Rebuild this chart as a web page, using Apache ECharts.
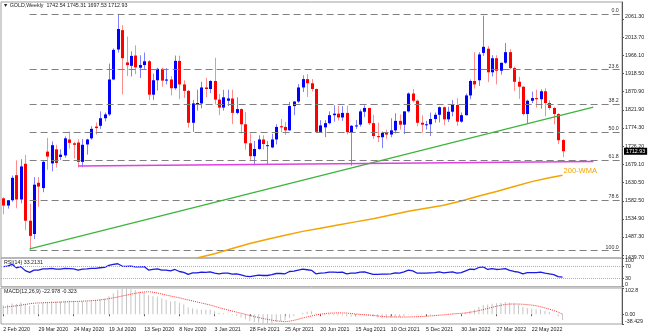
<!DOCTYPE html>
<html lang="en">
<head>
<meta charset="UTF-8">
<script src="https://cdn.jsdelivr.net/npm/echarts@6.0.0/dist/echarts.min.js"></script>
<style>html,body{margin:0;padding:0;background:#fff;}</style>
</head>
<body>
<div id="chart" style="width:648px;height:336px;"></div>
<script type="text/javascript">
// weekly candles, 2 Feb 2020 .. 10 Jul 2022
var dateLabels = ['2 Feb 2020', '29 Mar 2020', '24 May 2020', '19 Jul 2020', '13 Sep 2020', '8 Nov 2020',
    '3 Jan 2021', '28 Feb 2021', '25 Apr 2021', '20 Jun 2021', '15 Aug 2021', '10 Oct 2021',
    '5 Dec 2021', '30 Jan 2022', '27 Mar 2022', '22 May 2022'];
var totalSlots = 141;

var opens = [1589,1570,1584,1650,1586,1680,1530,1495,1630,1616, 1712,1681,1718,1698,1702,1744,1734,1736,1685,1731,
    1747,1778,1780,1800,1810,1902,1981,2032,1947,1938, 1965,1933,1940,1950,1862,1900,1930,1899,1902,1879,
    1951,1889,1872,1788,1837,1839,1881,1877,1898,1849, 1828,1846,1852,1814,1824,1784,1734,1700,1719,1744,
    1727,1723,1744,1779,1777,1768,1832,1844,1881,1903, 1892,1877,1764,1776,1787,1808,1812,1802,1814,1763,
    1780,1783,1817,1827,1787,1753,1750,1761,1757,1768, 1793,1783,1818,1865,1846,1788,1783,1784,1798,1809,
    1829,1797,1817,1835,1791,1808,1860,1898,1900,1972, 1983,1921,1958,1925,1946,1974,1932,1896,1883,1811,
    1846,1853,1850,1871,1840,1827,1811,1742.54];
var highs = [1592,1584,1649,1689,1692,1703,1575,1645,1645,1690, 1748,1739,1730,1718,1752,1765,1738,1745,1745,1746,
    1779,1789,1818,1815,1944,1984,2075,2045,2015,1976, 1992,1966,1973,1953,1917,1933,1933,1932,1911,1965,
    1965,1900,1875,1848,1875,1896,1906,1900,1959,1864, 1875,1875,1875,1855,1826,1816,1760,1740,1755,1755,
    1740,1759,1784,1798,1790,1843,1845,1890,1913,1916, 1903,1878,1795,1795,1818,1834,1832,1832,1833,1782,
    1795,1823,1834,1827,1809,1788,1765,1770,1800,1813, 1810,1818,1868,1877,1849,1808,1793,1815,1815,1831,
    1831,1830,1848,1853,1815,1865,1902,1974,1974,2070, 1990,1966,1966,1946,1998,1982,1936,1909,1884,1849,
    1870,1875,1876,1879,1847,1830,1813,1745.31];
var lows = [1547,1562,1580,1563,1576,1505,1451,1482,1567,1605, 1664,1660,1670,1690,1696,1720,1694,1670,1671,1704,
    1743,1757,1772,1792,1806,1900,1973,1863,1911,1910, 1916,1906,1930,1848,1848,1873,1883,1889,1860,1875,
    1850,1853,1775,1764,1820,1826,1855,1866,1836,1808, 1820,1832,1785,1810,1760,1717,1687,1676,1717,1718,
    1677,1721,1731,1763,1756,1767,1808,1840,1869,1856, 1870,1761,1761,1750,1784,1791,1794,1793,1758,1675,
    1772,1778,1803,1782,1745,1737,1721,1746,1750,1760, 1770,1758,1815,1842,1779,1762,1770,1753,1788,1789,
    1782,1790,1805,1780,1788,1807,1850,1878,1885,1964, 1895,1910,1889,1915,1943,1929,1872,1851,1807,1786,
    1840,1828,1825,1805,1822,1784,1732,1697.53];
var closes = [1570,1584,1643,1586,1673,1530,1490,1625,1620,1685, 1699,1729,1682,1704,1747,1735,1730,1685,1730,1744,
    1772,1774,1800,1810,1902,1980,2035,1958,1940,1964, 1934,1940,1950,1862,1900,1930,1899,1902,1879,1951,
    1889,1872,1788,1839,1840,1881,1877,1898,1849,1828, 1855,1852,1814,1824,1784,1734,1700,1719,1744,1732,
    1729,1744,1777,1776,1768,1832,1844,1881,1903,1892, 1877,1764,1781,1787,1808,1812,1802,1814,1763,1780,
    1781,1818,1827,1787,1753,1750,1761,1757,1768,1793, 1783,1818,1865,1846,1788,1783,1784,1798,1809,1829,
    1797,1817,1835,1791,1808,1860,1898,1889,1968,1988, 1921,1958,1925,1946,1974,1932,1896,1883,1811,1846,
    1853,1850,1871,1840,1827,1811,1742,1712.93];

// 200-WMA, read every few weeks [week index, price]
var wmaPoints = [[44,1432],[48,1443],[52,1457],[56,1470],[60,1481],[64,1492],[68,1502],[72,1510],[76,1519],
    [80,1527],[84,1535],[88,1545],[92,1555],[96,1563],[100,1571],[104,1582],[108,1595],[112,1607],
    [116,1620],[120,1633],[124,1643],[127,1650]];

var rsiValues = [70,72,78,66,70,56,50,58,58,62, 62,64,61,61,64,63,62,58,61,62,
    64,64,66,67,74,78,80,72,71,72, 69,69,70,58,60,62,58,58,55,60,
    53,50,43,48,48,51,50,52,47,45, 47,47,44,45,41,37,35,38,40,39,
    39,42,46,46,45,53,54,58,61,59, 57,45,47,48,51,51,50,51,45,47,
    47,51,52,47,43,43,44,44,45,48, 47,52,58,55,47,47,47,48,49,52,
    48,50,52,47,49,55,61,60,67,69, 60,63,60,61,63,57,53,51,45,49,
    49,49,51,47,45,42,35,33.21];

var macdValues = [35,37,42,40,46,40,32,36,38,44, 47,51,50,50,53,54,53,49,50,51,
    54,56,59,61,70,82,96,100,102.8,98, 94,88,84,74,70,68,62,57,50,52,
    45,38,26,22,18,18,17,17,12,6, 4,2,-3,-7,-13,-20,-28,-32,-34,-36,
    -38.4,-36,-31,-27,-24,-15,-8,0,6,10, 12,3,-2,-4,-4,-4,-5,-5,-8,-9,
    -9,-6,-4,-5,-9,-12,-14,-15,-15,-13, -11,-7,-1,1,-2,-2,-3,-3,-1,1,
    0,1,3,2,3,6,13,18,28,36, 38,41,43,45,48,46,42,37,28,24,
    21,19,18,13,8,2,-9,-22.978];

var signalPoints = [[0,27],[3,33],[7,43],[11,46],[15,49],[19,52],[22,56],[25,64],[28,75],[31,85],[33,88],
    [35,83],[37,75],[40,64],[42,56],[45,44],[47,36],[50,21],[53,8],[56,-5],[59,-17],[62,-26],[64,-29],
    [66,-24],[68,-15],[70,-7],[72,0],[74,4],[77,5],[80,1],[84,-5],[87,-10],[91,-11],[95,-9],[99,-4],
    [102,1],[105,5],[108,14],[111,27],[114,38],[116,40],[118,39],[121,33],[124,20],[126,8],[127,-0.32]];

var priceTicks = [2061.30, 2013.70, 1966.10, 1918.50, 1870.90, 1821.90, 1774.30, 1726.20, 1679.10,
    1630.50, 1582.50, 1534.90, 1487.30, 1439.70];
var rsiTicks = [0, 30, 70, 100];
var macdTicks = [-38.429, 0, 102.8];
var macdTickText = ['-38.429', '0.00', '102.8'];

var fibNames = ['0.0', '23.6', '38.2', '50.0', '61.8', '78.6', '100.0'];
var fibPrices = [2075, 1927.7, 1836.6, 1763, 1689.4, 1584.6, 1451];
var trendLine = [[6, 1455.6], [134, 1829.5]];
var supportLine = [[17, 1674], [134, 1686]];
var lastPrice = 1712.93;

var FONT = 'Liberation Sans';
var FS = 5.3;

var cats = [];
for (var k = 0; k < totalSlots; k++) {
    cats.push(k % 8 === 0 && k / 8 < dateLabels.length ? dateLabels[k / 8] : '');
}
var candles = opens.map(function (o, i) { return [i, o, closes[i], lows[i], highs[i]]; });

function renderCandle(params, api) {
    var i = api.value(0);
    var o = api.value(1), c = api.value(2), l = api.value(3), h = api.value(4);
    var pO = api.coord([i, o]), pC = api.coord([i, c]);
    var pL = api.coord([i, l]), pH = api.coord([i, h]);
    var up = c >= o;
    var x = Math.round(pO[0]) + 0.5;
    var top = Math.min(pO[1], pC[1]);
    var hgt = Math.max(1, Math.abs(pO[1] - pC[1]));
    return {
        type: 'group',
        children: [
            { type: 'line', shape: { x1: x, y1: pH[1], x2: x, y2: pL[1] },
              style: { stroke: up ? '#8080ff' : '#ff8c8c', lineWidth: 1 } },
            { type: 'rect', shape: { x: x - 1.5, y: top, width: 3, height: hgt },
              style: { fill: up ? '#0000ff' : '#ff0000' } }
        ]
    };
}

var marks = [];
fibPrices.forEach(function (p, n) {
    marks.push([
        { coord: [6, p], lineStyle: { color: '#808080', width: 1, type: [7, 4] },
          label: { show: true, position: 'insideEndTop', formatter: fibNames[n], fontSize: FS,
                   fontFamily: FONT, color: '#333', distance: 1 } },
        { coord: [140, p] }
    ]);
});
marks.push([
    { coord: trendLine[0], lineStyle: { color: '#3cb43c', width: 1.3, type: 'solid' } },
    { coord: trendLine[1] }
]);
marks.push([
    { coord: supportLine[0], lineStyle: { color: '#e040e0', width: 1.5, type: 'solid' } },
    { coord: supportLine[1] }
]);

var gridBase = { left: 1, right: 26, show: true, borderColor: '#a0a0a0', borderWidth: 1 };
function xAx(gi, showLabels) {
    return {
        type: 'category', gridIndex: gi, data: cats, boundaryGap: true,
        axisLine: { show: false },
        axisTick: { show: showLabels, alignWithLabel: true, length: 2, lineStyle: { color: '#555' },
                    interval: function (idx, val) { return val !== ''; } },
        axisLabel: { show: showLabels, interval: 0, align: 'left', margin: 3, fontSize: FS,
                     fontFamily: FONT, color: '#222' },
        splitLine: { show: false }
    };
}
function yAx(gi, min, max, ticks, fmt) {
    return {
        type: 'value', gridIndex: gi, position: 'right', min: min, max: max, scale: true,
        axisLine: { show: true, lineStyle: { color: '#555' } },
        axisTick: { show: true, length: 2, customValues: ticks, lineStyle: { color: '#555' } },
        axisLabel: { customValues: ticks, formatter: fmt, fontSize: FS, fontFamily: FONT, color: '#222',
                     margin: 3, verticalAlignMinLabel: 'bottom', verticalAlignMaxLabel: 'top' },
        splitLine: { show: false }
    };
}

var chart = echarts.init(document.getElementById('chart'));
chart.setOption({
    animation: false,
    backgroundColor: '#fff',
    title: [
        { text: '▼ GOLD,Weekly  1742.54 1745.31 1697.53 1712.93', left: 3, top: 3, padding: 0,
          textStyle: { fontSize: FS, fontWeight: 'normal', fontFamily: FONT, color: '#222' } },
        { text: 'RSI(14) 33.2131', left: 4, top: 260, padding: 0,
          textStyle: { fontSize: FS, fontWeight: 'normal', fontFamily: FONT, color: '#222' } },
        { text: 'MACD(12,26,9) -22.978 -0.323', left: 4, top: 289, padding: 0,
          textStyle: { fontSize: FS, fontWeight: 'normal', fontFamily: FONT, color: '#222' } }
    ],
    grid: [
        Object.assign({ top: 2, height: 256 }, gridBase),
        Object.assign({ top: 258, height: 28.7 }, gridBase),
        Object.assign({ top: 288, height: 36 }, gridBase)
    ],
    xAxis: [xAx(0, false), xAx(1, false), xAx(2, true)],
    yAxis: [
        yAx(0, 1431.85, 2106.07, priceTicks, function (v) { return v.toFixed(2); }),
        yAx(1, 0, 100, rsiTicks, function (v) { return String(v); }),
        yAx(2, -38.429, 102.8, macdTicks, function (v) {
            var n = macdTicks.indexOf(v); return n >= 0 ? macdTickText[n] : '';
        })
    ],
    series: [
        {
            type: 'line', name: '200-WMA', xAxisIndex: 0, yAxisIndex: 0, data: wmaPoints,
            symbol: 'none', lineStyle: { color: '#f5a300', width: 1.5 }, z: 3,
            endLabel: { show: true, formatter: '200-WMA', color: '#f5a300', fontSize: 7.5,
                        fontFamily: FONT, distance: 1, offset: [0, -4] }
        },
        {
            type: 'line', name: 'levels', xAxisIndex: 0, yAxisIndex: 0, data: [], z: 2,
            markLine: { symbol: ['none', 'none'], silent: true, animation: false,
                        label: { show: false }, data: marks }
        },
        {
            type: 'line', name: 'last', xAxisIndex: 0, yAxisIndex: 0, data: [], z: 6,
            markLine: {
                symbol: ['none', 'none'], silent: true, animation: false,
                lineStyle: { color: 'rgba(0,0,0,0)', width: 1 },
                label: { show: true, position: 'end', formatter: lastPrice.toFixed(2), backgroundColor: '#000',
                         color: '#fff', padding: [1, 2], fontSize: FS, fontFamily: FONT, distance: 2 },
                data: [{ yAxis: lastPrice }]
            }
        },
        {
            type: 'custom', name: 'GOLD', xAxisIndex: 0, yAxisIndex: 0, data: candles,
            renderItem: renderCandle, encode: { x: 0, y: [1, 2, 3, 4] }, clip: true, z: 4
        },
        {
            type: 'line', name: 'RSI', xAxisIndex: 1, yAxisIndex: 1, data: rsiValues, symbol: 'none',
            lineStyle: { color: '#1a1ae0', width: 1.3 },
            markLine: { symbol: ['none', 'none'], silent: true, label: { show: false },
                        lineStyle: { color: '#b0b0b0', type: 'dotted', width: 1 },
                        data: [{ yAxis: 70 }, { yAxis: 30 }] }
        },
        {
            type: 'bar', name: 'MACD', xAxisIndex: 2, yAxisIndex: 2, data: macdValues, barWidth: 1,
            itemStyle: { color: '#c4c4c4' }
        },
        {
            type: 'line', name: 'Signal', xAxisIndex: 2, yAxisIndex: 2, data: signalPoints, symbol: 'none',
            smooth: 0.3, lineStyle: { color: '#ff3030', width: 1, type: 'dotted' }
        }
    ]
});
</script>
</body>
</html>
